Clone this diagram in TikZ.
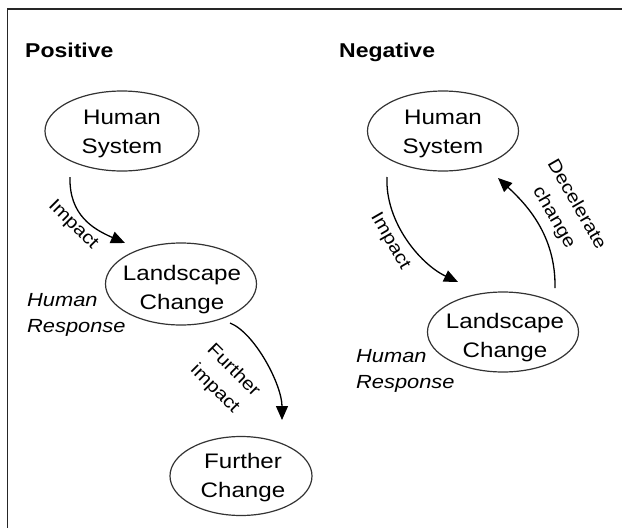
\documentclass[tikz,border=0pt]{standalone}
\usepackage{fontspec}
\setmainfont{Liberation Sans}[FakeStretch=1.15]
\usetikzlibrary{arrows.meta,shapes.geometric}
\begin{document}
\begin{tikzpicture}[x=1pt,y=-1pt,
  ell/.style={draw=black!80, line width=1.2pt, ellipse, inner sep=0pt},
  ntext/.style={align=center, inner sep=0pt, font=\fontsize{21}{29}\selectfont},
  ttl/.style={anchor=base west, inner sep=0pt, font=\fontsize{20}{24}\selectfont\bfseries},
  resp/.style={anchor=west, align=left, inner sep=0pt, font=\fontsize{19}{25.5}\selectfont\itshape},
  lbl/.style={align=center, inner sep=0pt, font=\fontsize{18}{26}\selectfont},
  arr/.style={line width=1.3pt, -{Triangle[length=14pt,width=12pt]}},
  frameline/.style={line width=1.5pt, black!85}
]
\useasboundingbox (0,0) rectangle (622,528);
\draw[frameline] (7.5,528) -- (7.5,9) -- (622,9);

% titles
\node[ttl] (pos) at (25,57) {Positive};
\node[ttl] (neg) at (339,57) {Negative};

% ellipses
\node[ell, minimum width=154pt, minimum height=80pt] (hs1) at (122,131) {};
\node[ell, minimum width=151pt, minimum height=82pt] (lc1) at (181,284) {};
\node[ell, minimum width=142pt, minimum height=79pt] (fc1) at (241,476) {};
\node[ell, minimum width=151pt, minimum height=80pt] (hs2) at (443,131) {};
\node[ell, minimum width=151pt, minimum height=80pt] (lc2) at (503,332) {};

% texts in ellipses
\node[ntext] (hs1t) at ([shift={(0,3)}]hs1.center) {Human\\System};
\node[ntext] (lc1t) at ([shift={(1,6)}]lc1.center) {Landscape\\Change};
\node[ntext] (fc1t) at ([shift={(2,2)}]fc1.center) {Further\\Change};
\node[ntext] (hs2t) at ([shift={(0,3)}]hs2.center) {Human\\System};
\node[ntext] (lc2t) at ([shift={(2,6)}]lc2.center) {Landscape\\Change};

% human response
\node[resp] (hr1) at (27,315) {Human\\Response};
\node[resp] (hr2) at (356,371) {Human\\Response};

% arrows
\draw[arr] ([shift={(-52,46)}]hs1.center) .. controls +(-1,38) and +(-32,-14) .. ([shift={(-56,-41)}]lc1.center);
\draw[arr] ([shift={(49,39)}]lc1.center) .. controls +(25,10) and +(0,-35) .. ([shift={(41,-56)}]fc1.center);
\draw[arr] ([shift={(-56,46)}]hs2.center) .. controls +(-2,45) and +(-38,-18) .. ([shift={(-45,-50)}]lc2.center);
\draw[arr] ([shift={(52,-44)}]lc2.center) .. controls +(1,-53) and +(28,26) .. ([shift={(55,47)}]hs2.center);

% arrow labels
\node[lbl, rotate=-45] (l1) at (73,225) {Impact};
\node[lbl, rotate=-45] (l2) at (224,380) {Further\\impact};
\node[lbl, rotate=-60] (l3) at (390,241) {Impact};
\node[lbl, rotate=-60] (l4) at (565,211) {Decelerate\\change};
\end{tikzpicture}
\end{document}
